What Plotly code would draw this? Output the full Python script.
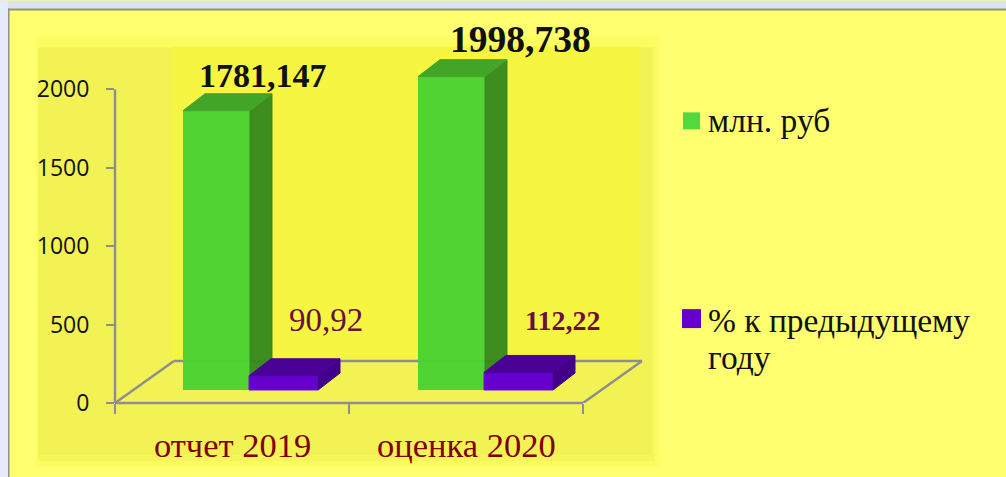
import plotly.graph_objects as go

categories = ["отчет 2019", "оценка 2020"]
series_names = ["млн. руб", "% к предыдущему году"]
rub_values = [1781.147, 1998.738]
pct_values = [90.92, 112.22]
rub_labels = ["1781,147", "1998,738"]
pct_labels = ["90,92", "<b>112,22</b>"]
y_ticks = [0, 500, 1000, 1500, 2000]

W, H = 1006, 477
L, B = 115, 403
PXX = 234.0
PXY = 0.157
X_MAX = 3
Y_MAX = 2500
R = L + PXX * X_MAX
T = B - PXY * Y_MAX


def ux(px):
    return px / PXX


def uy(px):
    return px / PXY


def pap_x(px):
    return (px - L) / (R - L)


def pap_y(py):
    return (B - py) / (B - T)


BASE = uy(13)
DX, DY = ux(22), uy(17)
FX, FY = ux(59), uy(42)
RUB_LEFT = [ux(183 - L), ux(418 - L)]
PCT_LEFT = [ux(249 - L), ux(484 - L)]
BW = ux(67)
PW = ux(69)

GRAY = "#8E8E8E"
fig = go.Figure()


def side_and_top(lefts, width, vals, c_side, c_top, name, xa, ya):
    for l, v in zip(lefts, vals):
        t = BASE + v
        r = l + width
        fig.add_trace(go.Scatter(x=[r, r + DX, r + DX, r, r], y=[BASE, BASE + DY, t + DY, t, BASE], xaxis=xa, yaxis=ya,
                                 fill="toself", fillcolor=c_side, mode="lines", line=dict(color=c_side, width=1),
                                 cliponaxis=False, showlegend=False, hoverinfo="skip", name=name))
        fig.add_trace(go.Scatter(x=[l, l + DX, r + DX, r, l], y=[t, t + DY, t + DY, t, t], xaxis=xa, yaxis=ya,
                                 fill="toself", fillcolor=c_top, mode="lines", line=dict(color=c_top, width=1),
                                 cliponaxis=False, showlegend=False, hoverinfo="skip", name=name))


fig.add_trace(go.Bar(x=RUB_LEFT, y=rub_values, base=[BASE, BASE], width=BW, offset=0, name=series_names[0],
                     marker=dict(color="rgba(72,210,50,0.95)", line=dict(width=0)), cliponaxis=False, showlegend=False))
side_and_top(RUB_LEFT, BW, rub_values, "rgba(52,135,30,0.95)", "#42A528", series_names[0], "x", "y")
fig.add_trace(go.Bar(x=PCT_LEFT, y=pct_values, base=[BASE, BASE], width=PW, offset=0, name=series_names[1], xaxis="x2", yaxis="y2",
                     marker=dict(color="#6600CC", line=dict(color="#6E14D2", width=1)), cliponaxis=False, showlegend=False))
side_and_top(PCT_LEFT, PW, pct_values, "#42008A", "#4B0096", series_names[1], "x2", "y2")

shapes = []


def rect(x0, y0, x1, y1, color, layer="below"):
    shapes.append(dict(type="rect", xref="paper", yref="paper", x0=pap_x(x0), x1=pap_x(x1), y0=pap_y(y0), y1=pap_y(y1),
                       fillcolor=color, line=dict(width=0), layer=layer))


rect(0, 0, W, 8, "#DAE4F0")
rect(0, 0, 8, H, "#E6ECFB")
rect(8, 8, 9.5, H, GRAY)
rect(8, 8, W, 10, GRAY)
for i in range(3, 0, -1):
    rect(38 - i, 38 - i, 655 + 2 * i, 465 + i, "rgba(245,245,70,0.12)")
rect(38, 38, 655, 47, "#FCFC60")
rect(38, 47, 655, 455, "#F2F255")
rect(38, 455, 655, 461, "#F6F65A")
rect(38, 461, 655, 465, "#FBFB62")
rect(172, 46, 640, 361, "#F6F642")
rect(652, 47, 658, 455, "rgba(250,250,100,0.6)")

for x0, y0, x1, y1 in [(0, 0, FX, FY), (FX, FY, 2 + FX, FY), (2 + FX, FY, 2, 0)]:
    shapes.append(dict(type="line", xref="x", yref="y", x0=x0, y0=y0, x1=x1, y1=y1, layer="below",
                       line=dict(color=GRAY, width=2.5)))
shapes.append(dict(type="line", xref="x", yref="paper", x0=0, x1=2, y0=0, y1=0, layer="below",
                   line=dict(color=GRAY, width=2.5)))
shapes.append(dict(type="line", xref="paper", yref="y", x0=0, x1=0, y0=0, y1=2000, layer="below",
                   line=dict(color=GRAY, width=2.5)))

rect(683, 112, 700, 129, "#52D93D", "above")
rect(682, 309, 701, 328, "#6600CC", "above")

SERIF = "Liberation Serif"
ann = []
for i, c in enumerate(categories):
    ann.append(dict(x=0.5 + i, y=0, xref="x", yref="y", text=c, showarrow=False, yshift=-42, xanchor="center",
                    font=dict(family=SERIF, size=34.5, color="#7F0000")))
for l, v, t, xs, ys, sz in zip(RUB_LEFT, rub_values, rub_labels, [13, 35], [35, 37], [34, 37.5]):
    ann.append(dict(x=l + BW, y=BASE + v, xref="x", yref="y", text="<b>%s</b>" % t, showarrow=False, xanchor="center",
                    xshift=xs, yshift=ys, font=dict(family=SERIF, size=sz, color="#111111")))
for l, v, t, xs, ys, sz in zip(PCT_LEFT, pct_values, pct_labels, [8, 9], [56, 52], [33, 28]):
    ann.append(dict(x=l + PW, y=BASE + v, xref="x", yref="y", text=t, showarrow=False, xanchor="center",
                    xshift=xs, yshift=ys, font=dict(family=SERIF, size=sz, color="#6B0F3E")))

parts = series_names[1].split(" ")
for txt, py in [(series_names[0], 120), (" ".join(parts[:-1]), 320), (parts[-1], 357)]:
    ann.append(dict(x=pap_x(706), y=pap_y(py), xref="paper", yref="paper", text=txt, showarrow=False,
                    xanchor="left", yanchor="middle", font=dict(family=SERIF, size=33.5, color="#111111")))

fig.update_layout(
    width=W, height=H, autosize=False,
    margin=dict(l=L, r=W - R, t=T, b=H - B, pad=0),
    paper_bgcolor="#FFFF70", plot_bgcolor="rgba(0,0,0,0)",
    barmode="overlay", showlegend=False, shapes=shapes, annotations=ann,
    xaxis=dict(range=[0, X_MAX], tickvals=[0, 1, 2], ticktext=["", "", ""], ticks="outside", ticklen=10, tickwidth=2, tickcolor=GRAY,
               showline=False, showgrid=False, zeroline=False),
    yaxis=dict(range=[0, Y_MAX], tickvals=y_ticks, ticks="outside", ticklen=8, tickwidth=2, tickcolor=GRAY,
               showline=False, showgrid=False, zeroline=False,
               ticklabelstandoff=12, tickfont=dict(family="Open Sans", size=23, color="#111111")),
    xaxis2=dict(range=[0, X_MAX], overlaying="x", visible=False),
    yaxis2=dict(range=[0, Y_MAX], overlaying="y", visible=False),
)
fig.write_html("out.html", config={"displayModeBar": False},
               post_script="document.body.style.margin='0';document.body.style.overflow='hidden';")
